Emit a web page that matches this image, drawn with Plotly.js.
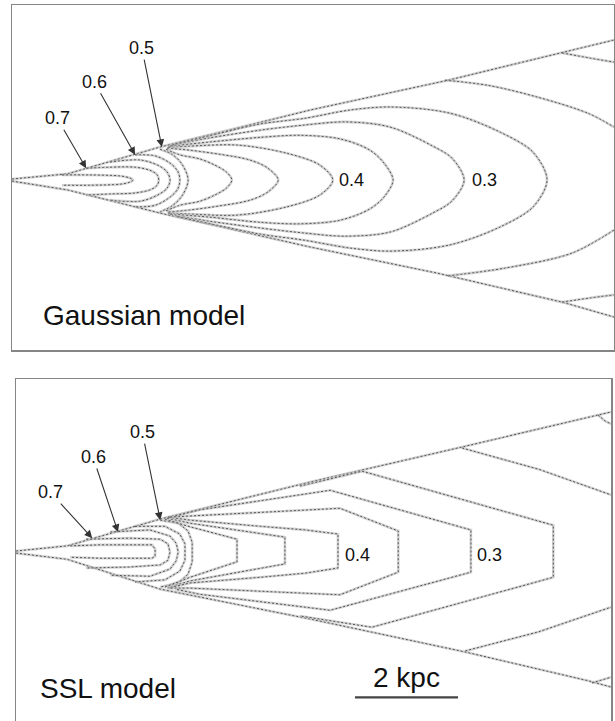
<!DOCTYPE html>
<html><head><meta charset="utf-8">
<script src="https://cdn.plot.ly/plotly-3.0.1.min.js"></script>
<style>html,body{margin:0;padding:0;background:#fff}</style>
</head><body><div id="chart" style="width:615px;height:721px"></div>
<script>
// ---------- Gaussian model (top panel), coordinates in kpc ----------
const gWedgeUpX = [0, 1.07, 2.87, 5.79, 8.47, 10.68, 11.69];
const gWedgeUpY = [0.02, 0.12, 0.64, 1.36, 1.94, 2.47, 2.72];
const gWedgeLoX = [0, 1.07, 2.87, 5.79, 8.27, 10.68, 11.69];
const gWedgeLoY = [-0.02, -0.19, -0.64, -1.30, -1.81, -2.37, -2.66];

const g075X = [0.97, 1.51, 2.10, 2.29, 2.35, 2.29, 2.10, 1.51, 0.97];
const g075Y = [0.10, 0.10, 0.08, 0.04, 0, -0.04, -0.08, -0.10, -0.10];
const g070X = [1.44, 1.90, 2.39, 2.68, 2.82, 2.85, 2.82, 2.68, 2.39, 1.90, 1.44];
const g070Y = [0.23, 0.25, 0.25, 0.19, 0.10, 0, -0.10, -0.19, -0.25, -0.27, -0.29];
const g065X = [1.90, 2.49, 2.83, 3.01, 3.07, 3.01, 2.83, 2.49, 1.90];
const g065Y = [0.35, 0.39, 0.29, 0.16, 0, -0.16, -0.29, -0.41, -0.39];
const g060X = [2.39, 2.78, 3.07, 3.22, 3.26, 3.22, 3.07, 2.78, 2.39];
const g060Y = [0.49, 0.47, 0.33, 0.17, 0, -0.17, -0.33, -0.49, -0.52];
const g055X = [2.87, 3.11, 3.30, 3.42, 3.30, 3.11, 2.87];
const g055Y = [0.60, 0.50, 0.31, 0, -0.31, -0.50, -0.62];
const g050X = [2.99, 3.26, 3.65, 3.94, 4.16, 4.27, 4.16, 3.94, 3.65, 3.26, 2.99];
const g050Y = [0.60, 0.49, 0.41, 0.29, 0.16, 0, -0.16, -0.29, -0.41, -0.49, -0.60];
const g045X = [3.01, 3.46, 4.04, 4.62, 4.97, 5.17, 4.97, 4.62, 4.04, 3.46, 3.01];
const g045Y = [0.62, 0.58, 0.50, 0.39, 0.23, 0, -0.23, -0.39, -0.50, -0.58, -0.62];
const g040X = [3.03, 3.46, 4.37, 5.34, 5.98, 6.23, 5.98, 5.34, 4.37, 3.46, 3.03];
const g040Y = [0.64, 0.66, 0.68, 0.52, 0.29, 0, -0.29, -0.52, -0.68, -0.66, -0.64];
const g035X = [3.07, 3.84, 4.82, 5.59, 6.37, 6.95, 7.24, 7.40, 7.24, 6.95, 6.37, 5.59, 4.82, 3.84, 3.07];
const g035Y = [0.66, 0.74, 0.83, 0.87, 0.80, 0.58, 0.31, 0, -0.31, -0.56, -0.78, -0.85, -0.82, -0.72, -0.66];
const g030X = [3.11, 3.84, 4.82, 5.69, 6.47, 7.34, 8.17, 8.54, 8.78, 8.54, 8.17, 7.34, 6.47, 5.69, 4.82, 3.84, 3.11];
const g030Y = [0.68, 0.82, 0.97, 1.07, 1.13, 1.03, 0.66, 0.43, 0, -0.41, -0.64, -1.01, -1.09, -1.03, -0.93, -0.80, -0.68];
const g025X = [3.17, 4.04, 4.82, 5.69, 6.56, 7.34, 8.50, 9.48, 10.12, 10.39, 10.12, 9.48, 8.50, 7.34, 6.56, 5.69, 4.82, 4.04, 3.17];
const g025Y = [0.70, 0.91, 1.09, 1.20, 1.36, 1.42, 1.30, 0.93, 0.54, 0, -0.52, -0.91, -1.26, -1.38, -1.32, -1.17, -1.05, -0.89, -0.70];
const g020UpX = [8.41, 9.24, 10.21, 11.18, 11.69];
const g020UpY = [1.94, 1.84, 1.61, 1.30, 1.03];
const g020LoX = [8.47, 9.57, 10.87, 11.69];
const g020LoY = [-1.86, -1.71, -1.42, -0.97];
const g015UpX = [10.68, 11.22, 11.69];
const g015UpY = [2.47, 2.37, 2.29];
const g015LoX = [10.68, 11.22, 11.69];
const g015LoY = [-2.37, -2.29, -2.23];

// ---------- SSL model (bottom panel), coordinates in kpc ----------
const sWedgeUpX = [0, 0.99, 2.80, 5.71, 8.66, 11.55];
const sWedgeUpY = [0.02, 0.12, 0.64, 1.36, 2.04, 2.72];
const sWedgeLoX = [0, 0.99, 2.80, 5.71, 8.72, 11.11, 11.55];
const sWedgeLoY = [-0.02, -0.14, -0.72, -1.30, -1.94, -2.50, -2.62];

const s075X = [1.05, 1.63, 2.64, 2.70, 2.70, 2.64, 1.63, 1.05];
const s075Y = [0.12, 0.14, 0.14, 0.06, -0.08, -0.12, -0.12, -0.10];
const s070X = [1.36, 2.21, 2.80, 2.95, 2.99, 2.95, 2.80, 2.21, 1.36];
const s070Y = [0.25, 0.27, 0.25, 0.16, 0, -0.16, -0.25, -0.29, -0.31];
const s065X = [1.83, 2.60, 2.99, 3.11, 3.15, 3.11, 2.99, 2.60, 1.83];
const s065Y = [0.39, 0.43, 0.31, 0.17, 0, -0.17, -0.33, -0.47, -0.45];
const s060X = [2.31, 2.89, 3.18, 3.28, 3.28, 3.18, 2.89, 2.31];
const s060Y = [0.50, 0.50, 0.35, 0.16, -0.16, -0.37, -0.54, -0.58];
const s055X = [2.80, 3.15, 3.34, 3.42, 3.42, 3.34, 3.15, 2.80];
const s055Y = [0.62, 0.56, 0.41, 0.19, -0.19, -0.43, -0.60, -0.68];
const s050X = [2.89, 3.38, 4.29, 4.29, 3.38, 2.89];
const s050Y = [0.64, 0.49, 0.25, -0.19, -0.49, -0.68];
const s045X = [2.93, 3.38, 5.22, 5.22, 3.38, 2.93];
const s045Y = [0.66, 0.56, 0.29, -0.23, -0.56, -0.70];
const s040X = [2.95, 3.38, 4.74, 5.61, 6.25, 6.25, 5.61, 4.74, 3.38, 2.95];
const s040Y = [0.68, 0.62, 0.50, 0.43, 0.35, -0.31, -0.41, -0.49, -0.60, -0.70];
const s035X = [2.99, 3.38, 6.29, 7.42, 7.42, 6.29, 3.38, 2.99];
const s035Y = [0.68, 0.70, 0.85, 0.41, -0.39, -0.83, -0.70, -0.70];
const s030X = [3.09, 3.57, 6.10, 8.83, 8.83, 6.10, 3.57, 3.09];
const s030Y = [0.70, 0.82, 1.20, 0.43, -0.39, -1.13, -0.82, -0.72];
const s025X = [5.51, 6.72, 10.43, 10.43, 6.91, 5.51];
const s025Y = [1.28, 1.57, 0.52, -0.49, -1.46, -1.24];
const s020UpX = [8.66, 10.14, 11.55];
const s020UpY = [2.02, 1.61, 1.11];
const s020LoX = [8.72, 10.14, 11.55];
const s020LoY = [-1.92, -1.55, -1.07];
const s015UpX = [11.30, 11.44, 11.55];
const s015UpY = [2.66, 2.54, 2.49];
const s015LoX = [11.18, 11.55];
const s015LoY = [-2.54, -2.43];

// ---------- labels ----------
const arrowLabels = ['0.5', '0.6', '0.7'];
const gArrowHeadX = [2.91, 2.39, 1.44];
const gArrowHeadY = [0.64, 0.49, 0.23];
const sArrowHeadX = [2.80, 1.98, 1.48];
const sArrowHeadY = [0.62, 0.39, 0.27];
const inlineLabels = ['0.4', '0.3'];
const gInlineX = [6.31, 8.89];
const sInlineX = [6.35, 8.91];
const panelTitles = ['Gaussian model', 'SSL model'];
const scaleBarStart = 6.58;   // kpc
const scaleBarLength = 2;     // kpc
const scaleBarLevel = -2.82;
const scaleBarText = '2 kpc';

// ---------- build traces ----------
const gLines = [
  [gWedgeUpX, gWedgeUpY, 'linear'], [gWedgeLoX, gWedgeLoY, 'linear'],
  [g075X, g075Y, 'spline'], [g070X, g070Y, 'spline'], [g065X, g065Y, 'spline'],
  [g060X, g060Y, 'spline'], [g055X, g055Y, 'spline'], [g050X, g050Y, 'spline'],
  [g045X, g045Y, 'spline'], [g040X, g040Y, 'spline'], [g035X, g035Y, 'spline'],
  [g030X, g030Y, 'spline'], [g025X, g025Y, 'spline'],
  [g020UpX, g020UpY, 'spline'], [g020LoX, g020LoY, 'spline'],
  [g015UpX, g015UpY, 'spline'], [g015LoX, g015LoY, 'spline']
];
const sLines = [
  [sWedgeUpX, sWedgeUpY], [sWedgeLoX, sWedgeLoY],
  [s075X, s075Y], [s070X, s070Y], [s065X, s065Y], [s060X, s060Y], [s055X, s055Y],
  [s050X, s050Y], [s045X, s045Y], [s040X, s040Y], [s035X, s035Y], [s030X, s030Y],
  [s025X, s025Y], [s020UpX, s020UpY], [s020LoX, s020LoY], [s015UpX, s015UpY], [s015LoX, s015LoY]
];

const traces = [];
function addLine(x, y, xa, ya, shape) {
  traces.push({x: x, y: y, xaxis: xa, yaxis: ya, type: 'scatter', mode: 'lines',
    line: {color: 'rgba(190,190,190,0.7)', width: 2.6, shape: shape, smoothing: 0.9},
    hoverinfo: 'skip', showlegend: false});
  traces.push({x: x, y: y, xaxis: xa, yaxis: ya, type: 'scatter', mode: 'lines',
    line: {color: '#555', width: 1, dash: '2px,2px', shape: shape, smoothing: 0.9},
    hoverinfo: 'skip', showlegend: false});
}
gLines.forEach(l => addLine(l[0], l[1], 'x', 'y', l[2]));
sLines.forEach(l => addLine(l[0], l[1], 'x2', 'y2', 'linear'));

// scale bar
traces.push({x: [scaleBarStart, scaleBarStart + scaleBarLength], y: [scaleBarLevel, scaleBarLevel],
  xaxis: 'x2', yaxis: 'y2', type: 'scatter', mode: 'lines',
  line: {color: '#444', width: 2.2}, hoverinfo: 'skip', showlegend: false});

const textFont = {family: 'Liberation Sans, Arial, sans-serif', size: 18, color: '#111'};
const bigFont = {family: 'Liberation Sans, Arial, sans-serif', size: 28, color: '#111'};

const annotations = [];
const gOffsets = [[-20, -99], [-41, -73], [-29, -50]];
const sOffsets = [[-18, -88], [-25, -75], [-42, -46]];
arrowLabels.forEach((t, i) => {
  annotations.push({xref: 'x', yref: 'y', x: gArrowHeadX[i], y: gArrowHeadY[i], text: t,
    showarrow: true, ax: gOffsets[i][0], ay: gOffsets[i][1], arrowhead: 2, arrowsize: 1.4,
    arrowwidth: 1.1, arrowcolor: '#333', standoff: 0, font: textFont});
  annotations.push({xref: 'x2', yref: 'y2', x: sArrowHeadX[i], y: sArrowHeadY[i], text: t,
    showarrow: true, ax: sOffsets[i][0], ay: sOffsets[i][1], arrowhead: 2, arrowsize: 1.4,
    arrowwidth: 1.1, arrowcolor: '#333', standoff: 0, font: textFont});
});
inlineLabels.forEach((t, i) => {
  annotations.push({xref: 'x', yref: 'y', x: gInlineX[i], y: 0, text: t, showarrow: false,
    xanchor: 'left', yanchor: 'middle', font: textFont});
  annotations.push({xref: 'x2', yref: 'y2', x: sInlineX[i], y: -0.06, text: t, showarrow: false,
    xanchor: 'left', yanchor: 'middle', font: textFont});
});
annotations.push({xref: 'paper', yref: 'paper', x: 0.066, y: 1 - 315 / 721, text: panelTitles[0],
  showarrow: false, xanchor: 'left', yanchor: 'middle', font: bigFont});
annotations.push({xref: 'paper', yref: 'paper', x: 0.062, y: 1 - 688 / 721, text: panelTitles[1],
  showarrow: false, xanchor: 'left', yanchor: 'middle', font: bigFont});
annotations.push({xref: 'x2', yref: 'y2', x: scaleBarStart + scaleBarLength / 2, y: scaleBarLevel,
  yshift: 20, text: scaleBarText, showarrow: false, xanchor: 'center', yanchor: 'middle', font: bigFont});

const frame = {color: '#858585', width: 1.5};
const layout = {
  width: 615, height: 721,
  margin: {l: 0, r: 0, t: 0, b: 0},
  paper_bgcolor: '#fff', plot_bgcolor: '#fff',
  showlegend: false,
  xaxis: {domain: [12 / 615, 614 / 615], range: [0, 11.69], showgrid: false, zeroline: false,
    showticklabels: false, ticks: '', showline: true, mirror: true, linecolor: frame.color,
    linewidth: frame.width, anchor: 'y', fixedrange: true},
  yaxis: {domain: [1 - 350 / 721, 1 - 5 / 721], range: [-3.30, 3.40], showgrid: false, zeroline: false,
    showticklabels: false, ticks: '', showline: true, mirror: true, linecolor: frame.color,
    linewidth: frame.width, anchor: 'x', fixedrange: true},
  xaxis2: {domain: [16 / 615, 611 / 615], range: [0, 11.55], showgrid: false, zeroline: false,
    showticklabels: false, ticks: '', showline: true, side: 'top', mirror: false,
    linecolor: frame.color, linewidth: frame.width, anchor: 'y2', fixedrange: true},
  yaxis2: {domain: [0, 1 - 379 / 721], range: [-3.28, 3.36], showgrid: false, zeroline: false,
    showticklabels: false, ticks: '', showline: true, mirror: true, linecolor: frame.color,
    linewidth: frame.width, anchor: 'x2', fixedrange: true},
  annotations: annotations
};
Plotly.newPlot('chart', traces, layout, {displayModeBar: false, staticPlot: true});
</script></body></html>
